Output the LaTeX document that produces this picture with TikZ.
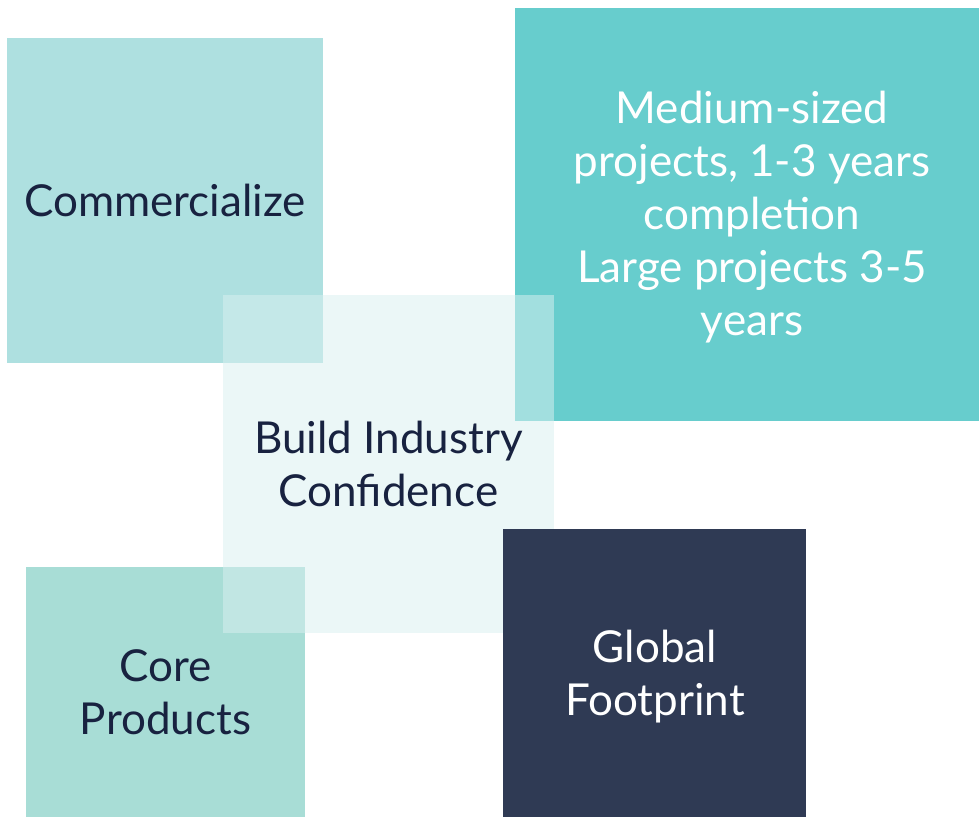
\documentclass[tikz,border=0pt]{standalone}
\usepackage{fontspec}
\setmainfont{Lato}
\usepackage{tikz}
\definecolor{commfill}{RGB}{174,224,224}
\definecolor{medfill}{RGB}{103,205,205}
\definecolor{corefill}{RGB}{168,221,214}
\definecolor{buildfill}{RGB}{217,240,240}
\definecolor{globfill}{RGB}{47,58,84}
\definecolor{inkdark}{RGB}{24,34,64}

\begin{document}
\begin{tikzpicture}[x=1pt,y=-1pt,
  tile/.style={inner sep=0pt,align=center,font=\fontsize{44}{53}\selectfont},
  darktext/.style={text=inkdark},
  lighttext/.style={text=white}]
\useasboundingbox (0,0) rectangle (979,817);
\node[tile,darktext,fill=commfill,minimum width=316pt,minimum height=325pt] (comm) at (165,200) {Commercialize};
\node[tile,lighttext,fill=medfill,minimum width=464pt,minimum height=413pt] (med) at (747,214) {};
\node[tile,lighttext] (medtext) at (752,217) {Medium-sized\\projects, 1-3 years\\completion\\Large projects 3-5\\years};
\node[tile,darktext,fill=corefill,minimum width=279pt,minimum height=250pt] (core) at (165.5,692) {Core\\Products};
\node[tile,darktext,fill=buildfill,fill opacity=0.52,text opacity=1,minimum width=331pt,minimum height=338pt] (build) at (388.5,464) {Build Industry\\Confidence};
\node[tile,lighttext,fill=globfill,minimum width=303pt,minimum height=288pt] (glob) at (654.5,673) {};
\node[tile,lighttext] (globtext) at (655,677) {Global\\Footprint};
\end{tikzpicture}
\end{document}
